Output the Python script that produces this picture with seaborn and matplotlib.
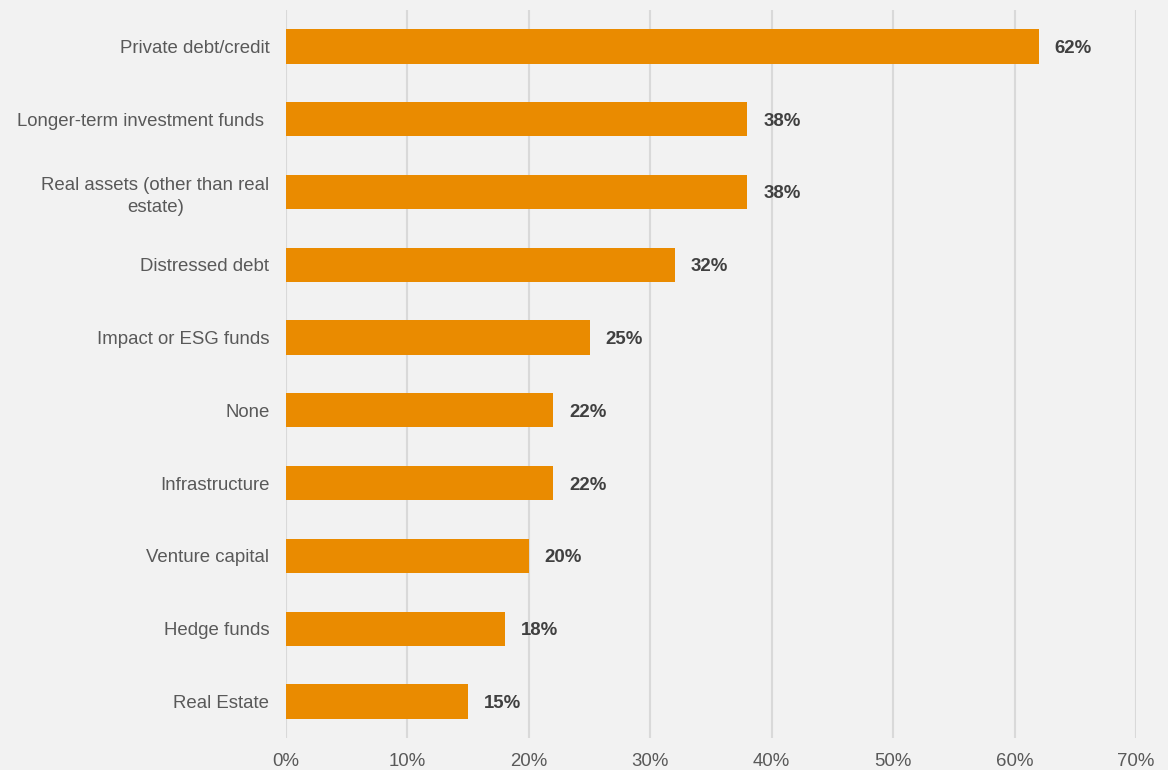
import matplotlib
matplotlib.use("Agg")
import matplotlib.pyplot as plt
import seaborn as sns
import pandas as pd
from matplotlib.ticker import FuncFormatter

categories = [
    "Private debt/credit",
    "Longer-term investment funds ",
    "Real assets (other than real\nestate)",
    "Distressed debt",
    "Impact or ESG funds",
    "None",
    "Infrastructure",
    "Venture capital",
    "Hedge funds",
    "Real Estate",
]
shares = [62, 38, 38, 32, 25, 22, 22, 20, 18, 15]
x_ticks = [0, 10, 20, 30, 40, 50, 60, 70]

df = pd.DataFrame({"category": categories, "share": shares})

bg = "#F2F2F2"
bar_color = "#EA8B00"

sns.set_theme(style="white")
plt.rcParams["font.family"] = ["Liberation Sans", "DejaVu Sans"]

fig = plt.figure(figsize=(11.68, 7.70), dpi=100, facecolor=bg)
ax = fig.add_axes([0.2449, 0.0416, 0.7277, 0.9454])
ax.set_facecolor(bg)

sns.barplot(data=df, x="share", y="category", color=bar_color,
            saturation=1, width=0.47, ax=ax, orient="h",
            edgecolor="none", linewidth=0)

ax.set_xlim(0, 70)
ax.set_ylim(len(categories) - 0.5, -0.5)
ax.set_xticks(x_ticks)
ax.xaxis.set_major_formatter(FuncFormatter(lambda v, _: f"{v:.0f}%"))
ax.grid(axis="x", color="#D9D9D9", linewidth=1.5)
ax.set_axisbelow(True)
for s in ax.spines.values():
    s.set_visible(False)
ax.set_xlabel("")
ax.set_ylabel("")
ax.tick_params(axis="both", length=0, labelsize=13.4, labelcolor="#595959")
ax.tick_params(axis="x", pad=11)
ax.tick_params(axis="y", pad=12)
for lbl in ax.get_yticklabels():
    lbl.set_horizontalalignment("right")
    lbl.set_multialignment("center")
    lbl.set_linespacing(1.35)

for i, v in enumerate(shares):
    ax.text(v + 1.3, i, f"{v}%", va="center_baseline", ha="left",
            fontsize=13.4, fontweight="bold", color="#404040")

fig.savefig("out.png", dpi=100, facecolor=bg)
